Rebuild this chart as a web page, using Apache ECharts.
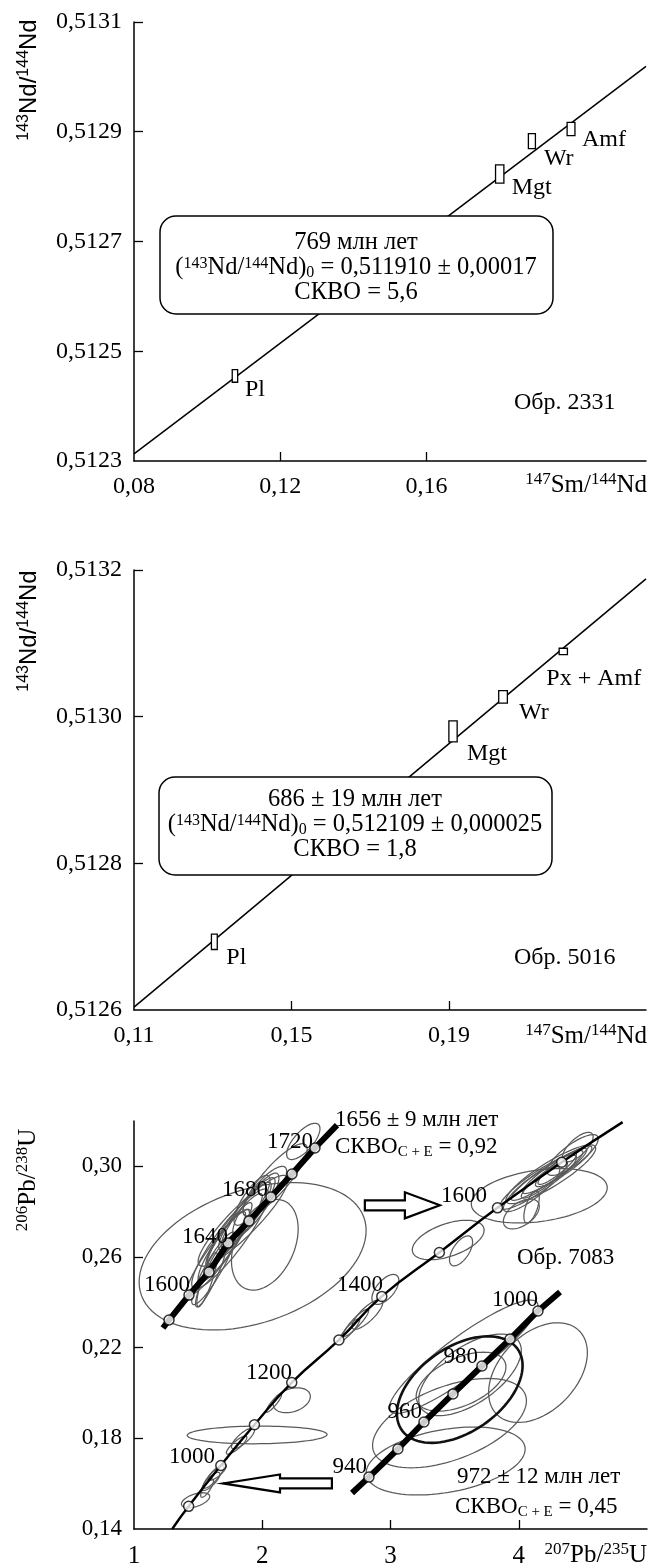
<!DOCTYPE html>
<html><head><meta charset="utf-8">
<script src="https://cdn.jsdelivr.net/npm/echarts@6/dist/echarts.min.js"></script>
<style>html,body{margin:0;padding:0;background:#fff;}#chart{width:648px;height:1566px;}</style>
</head><body><div id="chart"></div>
<script>
// ---------- Panel 1: Sm–Nd isochron, sample 2331 ----------
const p1Names = ['Pl', 'Mgt', 'Wr', 'Amf'];
const p1Sm = [0.1076, 0.1800, 0.1888, 0.1995];
const p1Nd = [0.512455, 0.512823, 0.512883, 0.512905];
const p1SmErr = [0.00074, 0.00114, 0.00096, 0.00107];
const p1NdErr = [0.0000115, 0.0000167, 0.0000137, 0.0000121];
const p1Isochron = [[0.08, 0.512313], [0.22, 0.513019]];
const p1XLabels = [0.08, 0.12, 0.16];
const p1XTicks = [0.12, 0.16];
const p1YLabels = [0.5123, 0.5125, 0.5127, 0.5129, 0.5131];
const p1YTicks = [0.5125, 0.5127, 0.5129, 0.5131];

// ---------- Panel 2: Sm–Nd isochron, sample 5016 ----------
const p2Names = ['Pl', 'Mgt', 'Wr', 'Px + Amf'];
const p2Sm = [0.1304, 0.1910, 0.2037, 0.2190];
const p2Nd = [0.512693, 0.512980, 0.513027, 0.513089];
const p2SmErr = [0.00074, 0.00105, 0.0011, 0.00105];
const p2NdErr = [0.0000105, 0.0000143, 0.0000084, 0.0000043];
const p2Isochron = [[0.11, 0.512604], [0.24, 0.513188]];
const p2XLabels = [0.11, 0.15, 0.19];
const p2XTicks = [0.15, 0.19];
const p2YLabels = [0.5126, 0.5128, 0.5130, 0.5132];
const p2YTicks = [0.5128, 0.5130, 0.5132];

// ---------- Panel 3: U–Pb concordia, sample 7083 ----------
const concordiaLine = [[1.298,0.140],[1.426,0.150],[1.677,0.168],[1.939,0.186],[2.230,0.2046],[2.598,0.2234],[2.932,0.2426],[3.381,0.2620],[3.834,0.2817],[4.335,0.3018],[4.81,0.3195]];
const concordiaMarks = [[1.426,0.150],[1.677,0.168],[1.939,0.186],[2.230,0.2046],[2.598,0.2234],[2.932,0.2426],[3.381,0.2620],[3.834,0.2817],[4.335,0.3018]];
const oldInsetLine = [[1.226,0.2287],[1.273,0.2322],[1.429,0.2432],[1.585,0.2534],[1.733,0.2662],[1.897,0.2759],[2.068,0.2865],[2.232,0.2966],[2.411,0.3081],[2.583,0.3182]];
const oldInsetMarks = [[1.273,0.2322],[1.429,0.2432],[1.585,0.2534],[1.733,0.2662],[1.897,0.2759],[2.068,0.2865],[2.232,0.2966],[2.411,0.3081]];
const youngInsetLine = [[2.700,0.1559],[2.832,0.1629],[3.058,0.1753],[3.261,0.1872],[3.487,0.1996],[3.713,0.2119],[3.932,0.2238],[4.150,0.2362],[4.322,0.2446]];
const youngInsetMarks = [[2.832,0.1629],[3.058,0.1753],[3.261,0.1872],[3.487,0.1996],[3.713,0.2119],[3.932,0.2238],[4.150,0.2362]];
// error ellipses: [x centre, y centre, x sigma, y sigma, correlation]
const oldEllipses = [
  [1.925,0.2603,0.885,0.0325,0.35],[2.02,0.2654,0.26,0.020,0.35],[1.78,0.272,0.22,0.016,0.93],
  [1.82,0.275,0.25,0.018,0.92],[1.75,0.268,0.30,0.022,0.90],[1.88,0.279,0.22,0.016,0.90],
  [1.95,0.283,0.18,0.014,0.85],[1.70,0.265,0.20,0.016,0.90],[2.02,0.289,0.17,0.011,0.80],
  [2.10,0.294,0.25,0.016,0.85],[1.62,0.255,0.17,0.016,0.90],[1.57,0.250,0.08,0.012,0.85],
  [2.32,0.311,0.13,0.008,0.70],[1.85,0.276,0.35,0.020,0.90],[1.72,0.268,0.15,0.012,0.90],
  [1.80,0.274,0.12,0.010,0.88],[1.66,0.262,0.25,0.019,0.92],[1.92,0.285,0.14,0.011,0.80],
  [1.60,0.252,0.12,0.014,0.90]
];
const mainEllipses = [
  [4.22,0.296,0.28,0.011,0.93],[4.28,0.298,0.25,0.010,0.92],[4.15,0.293,0.30,0.012,0.90],
  [4.35,0.300,0.22,0.009,0.90],[4.10,0.290,0.22,0.010,0.85],[4.25,0.2965,0.35,0.013,0.88],
  [4.46,0.3085,0.12,0.0065,0.70],[4.42,0.305,0.20,0.009,0.80],[4.16,0.287,0.53,0.012,0.30],
  [4.02,0.279,0.14,0.0066,0.50],[4.10,0.282,0.06,0.007,0.60],[3.45,0.2675,0.28,0.0087,0.50],
  [3.55,0.2627,0.09,0.0066,0.60],[2.96,0.2457,0.105,0.0066,0.60],[2.82,0.2347,0.12,0.0066,0.80],
  [2.68,0.2278,0.08,0.005,0.90],[2.73,0.231,0.10,0.006,0.90],[2.23,0.1968,0.145,0.0055,0.30],
  [2.09,0.1955,0.06,0.004,0.90],[1.96,0.1815,0.545,0.0039,0.05],[1.85,0.180,0.09,0.0046,0.80],
  [1.80,0.177,0.08,0.004,0.85],[1.62,0.163,0.08,0.005,0.85],[1.60,0.161,0.07,0.004,0.80],
  [1.65,0.165,0.07,0.0035,0.80],[1.48,0.1527,0.11,0.0033,0.50],[1.57,0.158,0.05,0.004,0.80],
  [4.30,0.299,0.15,0.007,0.90],[4.20,0.294,0.18,0.008,0.90]
];
const youngEllipses = [
  [3.57,0.216,0.58,0.025,0.90],[4.15,0.209,0.385,0.022,0.40],[3.46,0.1867,0.60,0.0197,0.50],
  [3.43,0.170,0.62,0.015,0.35],[3.55,0.205,0.35,0.013,0.50],[3.62,0.208,0.40,0.018,0.60]
];
const boldEllipse = [[3.54,0.2015,0.49,0.0235,0.45]];
// hollow arrows: [tail x, tail y, tip x, tip y]
const arrows = [[2.80,0.2828,3.385,0.2828],[2.543,0.1601,1.694,0.1601]];
const p3XLabels = [1, 2, 3, 4];
const p3XTicks = [2, 3, 4];
const p3YLabels = [0.14, 0.18, 0.22, 0.26, 0.30];
const p3YTicks = [0.18, 0.22, 0.26, 0.30];

// ---------- styling ----------
const SERIF = '"Liberation Serif","Times New Roman",serif';
const SANS = '"Liberation Sans",Arial,sans-serif';
const arrowHeadLen = [35, 57];
const arrowHeadHalf = [13, 9];
const arrowShaftHalf = [5, 5];
const p1LabelOff = [[10,14],[12,14],[12,18],[11,11]];
const p2LabelOff = [[12,16],[14,22],[16,16],[-17,27]];

function rich(size, fam, lh) {
  const s = Math.round(size * 0.66);
  return {
    n: {fontSize: size, fontFamily: fam, fill: '#000', lineHeight: lh || size + 2, align: 'center'},
    sup: {fontSize: s, fontFamily: fam, fill: '#000', lineHeight: s, verticalAlign: 'top', align: 'center'},
    sub: {fontSize: s, fontFamily: fam, fill: '#000', lineHeight: s, verticalAlign: 'bottom', align: 'center'}
  };
}
function gText(x, y, text, size, fam, align, extra, lh) {
  return Object.assign({
    type: 'text', x: x, y: y, z: 60,
    style: {text: text, rich: rich(size, fam, lh), fill: '#000', fontSize: size, fontFamily: fam,
      align: align, textAlign: align, verticalAlign: 'middle', textVerticalAlign: 'middle'}
  }, extra || {});
}

function xAxis(idx, min, max, labels, ticks, fmt, size, margin) {
  return {type: 'value', gridIndex: idx, min: min, max: max,
    axisLine: {show: true, onZero: false, lineStyle: {color: '#000', width: 1.5}},
    axisTick: {show: true, inside: true, length: 9, customValues: ticks, lineStyle: {color: '#000', width: 1.3}},
    axisLabel: {customValues: labels, formatter: fmt, color: '#000', fontFamily: SERIF, fontSize: size, margin: margin},
    splitLine: {show: false}};
}
function yAxis(idx, min, max, labels, ticks, fmt, size) {
  return {type: 'value', gridIndex: idx, min: min, max: max, position: 'left',
    axisLine: {show: true, onZero: false, lineStyle: {color: '#000', width: 1.5}},
    axisTick: {show: true, inside: true, length: 9, customValues: ticks, lineStyle: {color: '#000', width: 1.3}},
    axisLabel: {customValues: labels, formatter: fmt, color: '#000', fontFamily: SERIF, fontSize: size, margin: 12},
    splitLine: {show: false}};
}
const comma = d => v => v.toFixed(d).replace('.', ',');

function boxSeries(idx, names, xs, ys, dxs, dys, offs) {
  return {type: 'custom', xAxisIndex: idx, yAxisIndex: idx, z: 5,
    data: xs.map((x, i) => [x, ys[i], dxs[i], dys[i]]),
    renderItem: function (params, api) {
      const i = params.dataIndex;
      const x = api.value(0), y = api.value(1), dx = api.value(2), dy = api.value(3);
      const a = api.coord([x - dx, y + dy]), b = api.coord([x + dx, y - dy]), c = api.coord([x, y]);
      return {type: 'group', children: [
        {type: 'rect', shape: {x: a[0], y: a[1], width: b[0] - a[0], height: b[1] - a[1]},
          style: {fill: '#fff', stroke: '#000', lineWidth: 1.3}},
        {type: 'text', x: c[0] + offs[i][0], y: c[1] + offs[i][1],
          style: {text: names[i], fill: '#000', fontSize: 24, fontFamily: SERIF,
            align: 'left', textAlign: 'left', verticalAlign: 'middle', textVerticalAlign: 'middle'}}
      ]};
    }};
}
function lineSeries(idx, data, width, z, smooth) {
  return {type: 'line', xAxisIndex: idx, yAxisIndex: idx, data: data, showSymbol: false, symbol: 'none',
    smooth: !!smooth, z: z, lineStyle: {color: '#000', width: width}, silent: true};
}
function ellipseSeries(data, color, width, z) {
  return {type: 'custom', xAxisIndex: 2, yAxisIndex: 2, z: z, data: data, silent: true,
    renderItem: function (params, api) {
      const cx = api.value(0), cy = api.value(1), sx = api.value(2), sy = api.value(3), r = api.value(4);
      const k = Math.sqrt(1 - r * r), pts = [];
      for (let j = 0; j < 90; j++) {
        const t = 2 * Math.PI * j / 90;
        pts.push(api.coord([cx + sx * Math.cos(t), cy + sy * (r * Math.cos(t) + k * Math.sin(t))]));
      }
      return {type: 'polygon', shape: {points: pts}, style: {fill: 'none', stroke: color, lineWidth: width}};
    }};
}
function markSeries(data) {
  return {type: 'scatter', xAxisIndex: 2, yAxisIndex: 2, data: data, z: 8, symbol: 'circle', symbolSize: 10,
    silent: true, itemStyle: {color: '#fff', borderColor: '#000', borderWidth: 1.5}};
}

const option = {
  animation: false,
  backgroundColor: '#fff',
  grid: [
    {left: 134, top: 22, width: 512, height: 439, outerBoundsMode: 'none'},
    {left: 134, top: 570, width: 512, height: 440, outerBoundsMode: 'none'},
    {left: 134, top: 1121, width: 513, height: 408, outerBoundsMode: 'none'}
  ],
  xAxis: [
    xAxis(0, 0.08, 0.22, p1XLabels, p1XTicks, comma(2), 24, 14),
    xAxis(1, 0.11, 0.24, p2XLabels, p2XTicks, comma(2), 24, 14),
    xAxis(2, 1, 5, p3XLabels, p3XTicks, v => String(v), 25, 15)
  ],
  yAxis: [
    yAxis(0, 0.5123, 0.5131, p1YLabels, p1YTicks, comma(4), 24),
    yAxis(1, 0.5126, 0.5132, p2YLabels, p2YTicks, comma(4), 24),
    yAxis(2, 0.14, 0.32, p3YLabels, p3YTicks, comma(2), 23)
  ],
  series: [
    lineSeries(0, p1Isochron, 1.5, 3),
    boxSeries(0, p1Names, p1Sm, p1Nd, p1SmErr, p1NdErr, p1LabelOff),
    lineSeries(1, p2Isochron, 1.5, 3),
    boxSeries(1, p2Names, p2Sm, p2Nd, p2SmErr, p2NdErr, p2LabelOff),
    ellipseSeries(oldEllipses, '#5a5a5a', 1.25, 1),
    ellipseSeries(mainEllipses, '#5a5a5a', 1.25, 1),
    ellipseSeries(youngEllipses, '#5a5a5a', 1.25, 1),
    ellipseSeries(boldEllipse, '#111', 2.6, 2),
    lineSeries(2, concordiaLine, 2.4, 4, true),
    lineSeries(2, oldInsetLine, 6, 4),
    lineSeries(2, youngInsetLine, 6, 4),
    markSeries(concordiaMarks),
    markSeries(oldInsetMarks),
    markSeries(youngInsetMarks),
    {type: 'custom', xAxisIndex: 2, yAxisIndex: 2, z: 9, data: arrows, silent: true,
      renderItem: function (params, api) {
        const i = params.dataIndex;
        const a = api.coord([api.value(0), api.value(1)]), b = api.coord([api.value(2), api.value(3)]);
        const dir = Math.sign(b[0] - a[0]), hl = arrowHeadLen[i], hh = arrowHeadHalf[i], sh = arrowShaftHalf[i];
        const y = a[1], bx = b[0] - dir * hl;
        return {type: 'polygon', shape: {points: [[a[0], y - sh], [bx, y - sh], [bx, y - hh], [b[0], y], [bx, y + hh], [bx, y + sh], [a[0], y + sh]]},
          style: {fill: '#fff', stroke: '#000', lineWidth: 2.2}};
      }}
  ],
  graphic: [
    // axis titles
    gText(29, 80, '{sup|143}{n|Nd/}{sup|144}{n|Nd}', 24, SANS, 'center', {rotation: Math.PI / 2}),
    gText(29, 631, '{sup|143}{n|Nd/}{sup|144}{n|Nd}', 24, SANS, 'center', {rotation: Math.PI / 2}),
    gText(28, 1180, '{sup|206}{n|Pb/}{sup|238}{n|U}', 25, SERIF, 'center', {rotation: Math.PI / 2}),
    gText(647, 485, '{sup|147}{n|Sm/}{sup|144}{n|Nd}', 25, SERIF, 'right'),
    gText(647, 1036, '{sup|147}{n|Sm/}{sup|144}{n|Nd}', 25, SERIF, 'right'),
    gText(647, 1555, '{sup|207}{n|Pb/}{sup|235}{n|U}', 25, SERIF, 'right'),
    // panel 1 annotation
    {type: 'rect', z: 50, shape: {x: 160, y: 216, width: 393, height: 98, r: 16}, style: {fill: '#fff', stroke: '#000', lineWidth: 1.5}},
    gText(356, 268, '{n|769 млн лет}\n{n|(}{sup|143}{n|Nd/}{sup|144}{n|Nd)}{sub|0}{n| = 0,511910 ± 0,00017}\n{n|СКВО = 5,6}', 24.5, SERIF, 'center', null, 25),
    gText(514, 403, 'Обр. 2331', 24, SERIF, 'left'),
    // panel 2 annotation
    {type: 'rect', z: 50, shape: {x: 159, y: 777, width: 393, height: 98, r: 16}, style: {fill: '#fff', stroke: '#000', lineWidth: 1.5}},
    gText(355, 825, '{n|686 ± 19 млн лет}\n{n|(}{sup|143}{n|Nd/}{sup|144}{n|Nd)}{sub|0}{n| = 0,512109 ± 0,000025}\n{n|СКВО = 1,8}', 24.5, SERIF, 'center', null, 25),
    gText(514, 958, 'Обр. 5016', 24, SERIF, 'left'),
    // panel 3 annotations
    gText(335, 1120, '{n|1656 ± 9 млн лет}', 23, SERIF, 'left'),
    gText(335, 1147, '{n|СКВО}{sub|C + E}{n| = 0,92}', 23, SERIF, 'left'),
    gText(517, 1258, 'Обр. 7083', 23, SERIF, 'left'),
    gText(457, 1477, '{n|972 ± 12 млн лет}', 23, SERIF, 'left'),
    gText(455, 1507, '{n|СКВО}{sub|C + E}{n| = 0,45}', 23, SERIF, 'left'),
    gText(313, 1142, '1720', 23, SERIF, 'right'),
    gText(268, 1190, '1680', 23, SERIF, 'right'),
    gText(228, 1237, '1640', 23, SERIF, 'right'),
    gText(190, 1285, '1600', 23, SERIF, 'right'),
    gText(441, 1196, '1600', 23, SERIF, 'left'),
    gText(383, 1285, '1400', 23, SERIF, 'right'),
    gText(292, 1373, '1200', 23, SERIF, 'right'),
    gText(215, 1457, '1000', 23, SERIF, 'right'),
    gText(367, 1467, '940', 23, SERIF, 'right'),
    gText(422, 1412, '960', 23, SERIF, 'right'),
    gText(478, 1357, '980', 23, SERIF, 'right'),
    gText(538, 1300, '1000', 23, SERIF, 'right')
  ]
};
const chart = echarts.init(document.getElementById('chart'));
chart.setOption(option);
</script>
</body></html>
